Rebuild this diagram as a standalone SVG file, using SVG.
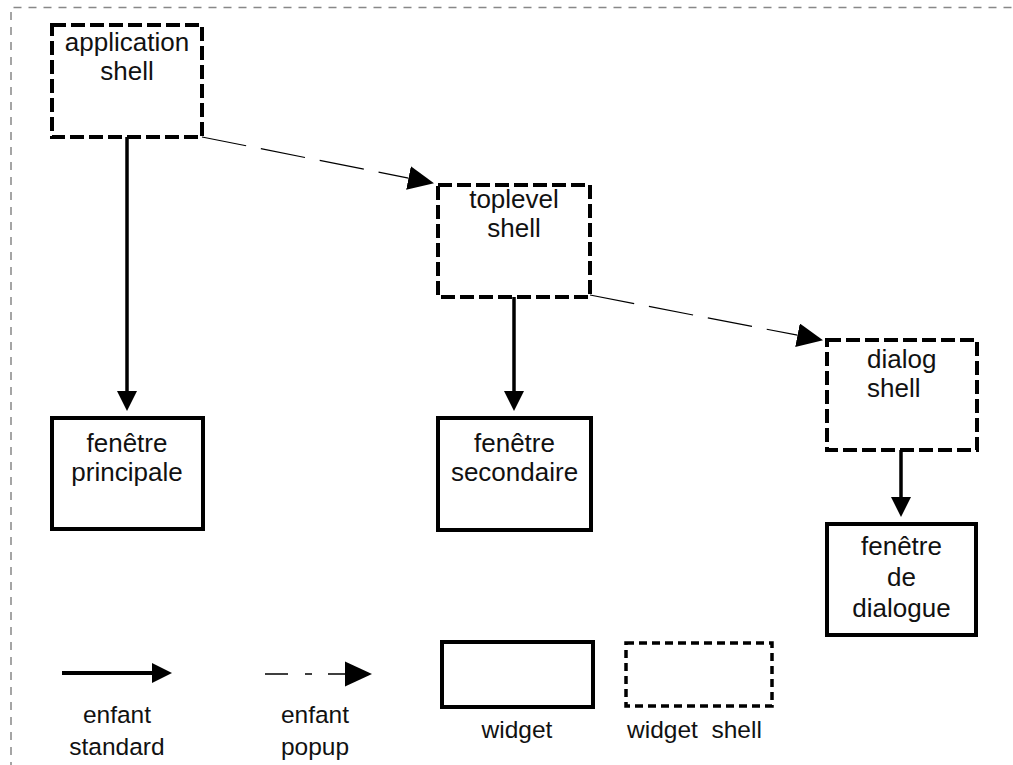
<svg xmlns="http://www.w3.org/2000/svg" width="1013" height="765" viewBox="0 0 1013 765">
  <style>
    text { font-family: "Liberation Sans", Arial, Helvetica, sans-serif; font-size: 26px; fill: #111; }
    .legend { font-size: 24.5px; }
    .mid { text-anchor: middle; }
    .widget { fill: #fff; stroke: #000; stroke-width: 4; }
    .shell { fill: #fff; stroke: #000; stroke-width: 4; stroke-dasharray: 14 5; }
    .shell-small { fill: #fff; stroke: #000; stroke-width: 3.5; stroke-dasharray: 8 5; }
    .child { stroke: #000; stroke-width: 3.5; fill: none; }
    .popup { stroke: #000; stroke-width: 1.2; fill: none; stroke-dasharray: 45 15; }
    .frame { stroke: #888; stroke-width: 1.5; fill: none; stroke-dasharray: 8 7; }
  </style>
  <defs>
    <marker id="head-child" markerUnits="userSpaceOnUse" markerWidth="20" markerHeight="20" refX="0" refY="10" orient="auto">
      <path d="M0,0 L20,10 L0,20 Z" fill="#000"/>
    </marker>
    <marker id="head-popup" markerUnits="userSpaceOnUse" markerWidth="26" markerHeight="24" refX="0" refY="12" orient="auto">
      <path d="M0,0 L26,12 L0,24 Z" fill="#000"/>
    </marker>
  </defs>

  <rect width="1013" height="765" fill="#fff"/>

  <!-- page frame -->
  <path class="frame" d="M11,770 V7.5 H1020"/>

  <!-- connectors -->
  <g id="connectors">
    <line class="child" x1="127" y1="137" x2="127" y2="391" marker-end="url(#head-child)"/>
    <line class="child" x1="514" y1="297" x2="514" y2="391" marker-end="url(#head-child)"/>
    <line class="child" x1="901" y1="450" x2="901" y2="497" marker-end="url(#head-child)"/>
    <line class="popup" x1="202" y1="137" x2="408.5" y2="178.1" marker-end="url(#head-popup)"/>
    <line class="popup" x1="590" y1="295" x2="797.5" y2="335.2" marker-end="url(#head-popup)"/>
  </g>

  <!-- shells -->
  <g id="application-shell">
    <rect class="shell" x="52" y="25" width="150" height="112"/>
    <text class="mid" x="127" y="51">application</text>
    <text class="mid" x="127" y="80">shell</text>
  </g>
  <g id="toplevel-shell">
    <rect class="shell" x="438" y="185" width="152" height="112"/>
    <text class="mid" x="514" y="208">toplevel</text>
    <text class="mid" x="514" y="237">shell</text>
  </g>
  <g id="dialog-shell">
    <rect class="shell" x="827" y="340" width="150" height="110"/>
    <text x="867" y="368">dialog</text>
    <text x="867" y="397">shell</text>
  </g>

  <!-- windows -->
  <g id="fenetre-principale">
    <rect class="widget" x="52" y="418" width="151" height="111"/>
    <text class="mid" x="127" y="452">fenêtre</text>
    <text class="mid" x="127" y="481">principale</text>
  </g>
  <g id="fenetre-secondaire">
    <rect class="widget" x="438" y="418" width="153" height="112"/>
    <text class="mid" x="514.5" y="452">fenêtre</text>
    <text class="mid" x="514.5" y="481">secondaire</text>
  </g>
  <g id="fenetre-dialogue">
    <rect class="widget" x="827" y="524" width="149" height="111"/>
    <text class="mid" x="901.5" y="555">fenêtre</text>
    <text class="mid" x="901.5" y="586">de</text>
    <text class="mid" x="901.5" y="617">dialogue</text>
  </g>

  <!-- legend -->
  <g id="legend-standard">
    <line stroke="#000" stroke-width="4" x1="62" y1="673" x2="152" y2="673" marker-end="url(#head-child)"/>
    <text class="mid legend" x="117" y="723">enfant</text>
    <text class="mid legend" x="117" y="755">standard</text>
  </g>
  <g id="legend-popup">
    <line stroke="#000" stroke-width="1.4" stroke-dasharray="23 17 7 16 40" x1="265" y1="674" x2="345" y2="674"/>
    <path d="M345,661.5 L372,674 L345,686.5 Z" fill="#000"/>
    <text class="mid legend" x="315" y="723">enfant</text>
    <text class="mid legend" x="315" y="755">popup</text>
  </g>
  <g id="legend-widget">
    <rect class="widget" x="442" y="642" width="151" height="65"/>
    <text class="mid legend" x="517" y="738">widget</text>
  </g>
  <g id="legend-widget-shell">
    <rect class="shell-small" x="626" y="643" width="146" height="63"/>
    <text class="legend" x="627" y="738" xml:space="preserve">widget  shell</text>
  </g>
</svg>
